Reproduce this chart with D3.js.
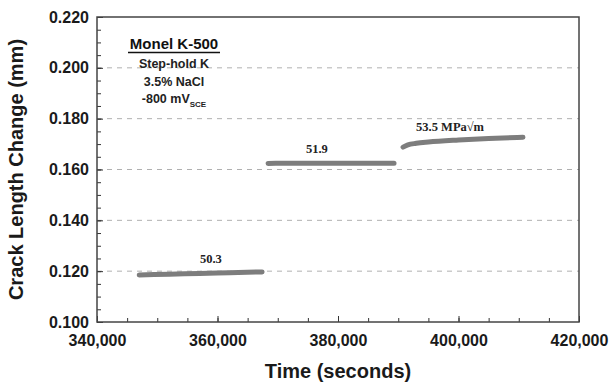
<!DOCTYPE html>
<html>
<head>
<meta charset="utf-8">
<script src="https://cdn.jsdelivr.net/npm/d3@7"></script>
<style>
body { margin: 0; background: #fff; }
text { font-family: Arial, "Liberation Sans", sans-serif; }
</style>
</head>
<body>
<div id="chart"></div>
<script>
// data
var seg1Time = [347000, 352000, 357000, 362000, 367400];
var seg1Crack = [0.1185, 0.1188, 0.1191, 0.1194, 0.1197];
var seg2Time = [368400, 373000, 378000, 383000, 389300];
var seg2Crack = [0.1624, 0.1625, 0.1625, 0.1625, 0.1625];
var seg3Time = [390800, 391600, 393000, 395000, 400000, 405000, 410700];
var seg3Crack = [0.1688, 0.1697, 0.1703, 0.1708, 0.1716, 0.1722, 0.1727];
var segLabels = ["50.3", "51.9", "53.5 MPa\u221Am"];
var segLabelTime = [358900, 376500, 398600];
var xTicks = [340000, 360000, 380000, 400000, 420000];
var yTicks = [0.100, 0.120, 0.140, 0.160, 0.180, 0.200, 0.220];

// set the dimensions and margins of the graph
var margin = {top: 17, right: 35, bottom: 61, left: 97},
width = 614 - margin.left - margin.right,
height = 383 - margin.top - margin.bottom;

var svg = d3.select("#chart")
.append("svg")
.attr("width", 614)
.attr("height", 383)
.append("g")
.attr("transform", "translate(" + margin.left + "," + margin.top + ")");

var x = d3.scaleLinear().domain([340000, 420000]).range([0, width]);
var y = d3.scaleLinear().domain([0.100, 0.220]).range([height, 0]);

// dashed gridlines
svg.selectAll(".grid")
.data(yTicks.slice(1, -1))
.enter().append("line")
.attr("x1", 0).attr("x2", width)
.attr("y1", function(d) { return y(d); })
.attr("y2", function(d) { return y(d); })
.attr("stroke", "#b0b0b0")
.attr("stroke-width", 1)
.attr("stroke-dasharray", "5,5");

// minor ticks (inward)
svg.append("g")
.attr("transform", "translate(0," + height + ")")
.call(d3.axisBottom(x).tickValues(d3.range(340000, 420001, 5000)).tickSize(-4).tickFormat(""))
.call(function(g) { g.select(".domain").remove(); })
.attr("color", "#333");
svg.append("g")
.call(d3.axisLeft(y).tickValues(d3.range(0, 25).map(function(i) { return 0.1 + i * 0.005; })).tickSize(-4).tickFormat(""))
.call(function(g) { g.select(".domain").remove(); })
.attr("color", "#333");

// major ticks + labels
var xAxis = svg.append("g")
.attr("transform", "translate(0," + height + ")")
.call(d3.axisBottom(x).tickValues(xTicks).tickSize(-6).tickPadding(13).tickFormat(d3.format(",")))
.attr("color", "#333");
xAxis.select(".domain").remove();
xAxis.selectAll("text")
.attr("fill", "#1a1a1a")
.style("font-size", "16px")
.style("font-weight", "bold");

var yAxis = svg.append("g")
.call(d3.axisLeft(y).tickValues(yTicks).tickSize(-6).tickPadding(8).tickFormat(d3.format(".3f")))
.attr("color", "#333");
yAxis.select(".domain").remove();
yAxis.selectAll("text")
.attr("fill", "#1a1a1a")
.style("font-size", "16px")
.style("font-weight", "bold");

// frame
svg.append("rect")
.attr("x", 0).attr("y", 0)
.attr("width", width).attr("height", height)
.attr("fill", "none")
.attr("stroke", "#444")
.attr("stroke-width", 1.5);

// data segments
var line = d3.line()
.x(function(d) { return x(d[0]); })
.y(function(d) { return y(d[1]); })
.curve(d3.curveMonotoneX);

var times = [seg1Time, seg2Time, seg3Time];
var cracks = [seg1Crack, seg2Crack, seg3Crack];
var segs = [d3.zip(seg1Time, seg1Crack), d3.zip(seg2Time, seg2Crack), d3.zip(seg3Time, seg3Crack)];
svg.selectAll(".seg")
.data(segs)
.enter().append("path")
.attr("d", line)
.attr("fill", "none")
.attr("stroke", "#7d7d7d")
.attr("stroke-width", 5)
.attr("stroke-linecap", "round");

// segment labels, sitting just above their segment
svg.selectAll(".seglabel")
.data(segLabels)
.enter().append("text")
.attr("x", function(d, i) { return x(segLabelTime[i]); })
.attr("y", function(d, i) {
  var c = d3.scaleLinear().domain(times[i]).range(cracks[i]).clamp(true);
  return y(c(segLabelTime[i])) - 10;
})
.attr("text-anchor", "middle")
.style("font-family", "'Liberation Serif', 'DejaVu Serif', serif")
.style("font-size", "12.5px")
.style("font-weight", "bold")
.attr("fill", "#222")
.text(function(d) { return d; });

// handmade legend box text
var lx = 174 - margin.left;
svg.append("text").attr("x", lx).attr("y", 49 - margin.top)
.attr("text-anchor", "middle").style("font-size", "15px").style("font-weight", "bold").attr("fill", "#111")
.text("Monel K-500");
svg.append("line").attr("x1", 128 - margin.left).attr("x2", 220 - margin.left)
.attr("y1", 52.5 - margin.top).attr("y2", 52.5 - margin.top)
.attr("stroke", "#111").attr("stroke-width", 1.5);
svg.append("text").attr("x", lx).attr("y", 68 - margin.top)
.attr("text-anchor", "middle").style("font-size", "12.5px").style("font-weight", "bold").attr("fill", "#222")
.text("Step-hold K");
svg.append("text").attr("x", lx).attr("y", 86 - margin.top)
.attr("text-anchor", "middle").style("font-size", "12.5px").style("font-weight", "bold").attr("fill", "#222")
.text("3.5% NaCl");
var mv = svg.append("text").attr("x", lx).attr("y", 103 - margin.top)
.attr("text-anchor", "middle").style("font-size", "12.5px").style("font-weight", "bold").attr("fill", "#222");
mv.append("tspan").text("-800 mV");
mv.append("tspan").attr("dy", 3.5).style("font-size", "8px").text("SCE");

// axis titles
svg.append("text")
.attr("x", width / 2)
.attr("y", height + 56)
.attr("text-anchor", "middle")
.style("font-size", "20px")
.style("font-weight", "bold")
.attr("fill", "#1a1a1a")
.text("Time (seconds)");

svg.append("text")
.attr("transform", "rotate(-90)")
.attr("x", -height / 2)
.attr("y", -74)
.attr("text-anchor", "middle")
.style("font-size", "20px")
.style("font-weight", "bold")
.attr("fill", "#1a1a1a")
.text("Crack Length Change (mm)");
</script>
</body>
</html>
